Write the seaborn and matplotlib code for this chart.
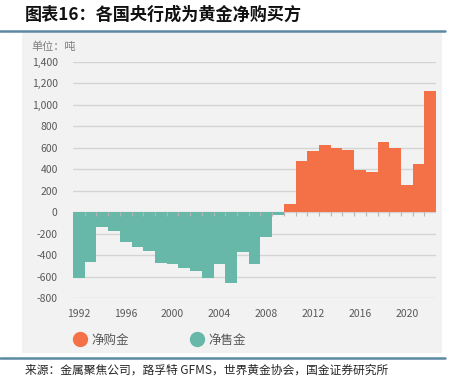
"""Central bank net gold purchases / sales, 1992-2022."""

import matplotlib
matplotlib.use("Agg")
import matplotlib.pyplot as plt
import numpy as np
import pandas as pd
import seaborn as sns
from matplotlib.lines import Line2D
from matplotlib.patches import Rectangle

# data (tonnes)
years = list(range(1992, 2023))
net_flow = [-618, -468, -135, -172, -280, -329, -363, -477, -480, -523, -548,
            -618, -483, -662, -369, -486, -235, -28, 80, 480, 566, 625, 597,
            578, 394, 375, 652, 600, 255, 449, 1132]
label_buy = "净购金"
label_sell = "净售金"
y_ticks = list(range(-800, 1401, 200))
x_label_years = list(range(1992, 2021, 4))

ORANGE = "#f47147"
TEAL = "#67b8a9"
PANEL = "#f2f2f2"
RULE = "#5b8ba3"

sns.set_theme(style="white")
plt.rcParams['font.family'] = ['Noto Sans CJK SC', 'DejaVu Sans']

df = pd.DataFrame({"year": years, "tons": net_flow})
df["type"] = np.where(df["tons"] >= 0, label_buy, label_sell)

fig = plt.figure(figsize=(4.55, 3.87), dpi=100)
fig.patch.set_facecolor("white")

# grey panel behind the chart
fig.add_artist(Rectangle((0.048, 0.088), 0.923, 0.829, transform=fig.transFigure,
                         facecolor=PANEL, edgecolor="none", zorder=0))
fig.add_artist(Line2D([0, 0.978], [0.921, 0.921], transform=fig.transFigure,
                      color=RULE, lw=1.8))
fig.add_artist(Line2D([0, 0.978], [0.075, 0.075], transform=fig.transFigure,
                      color=RULE, lw=1.8))

ax = fig.add_axes([0.1604, 0.23, 0.798, 0.61])
ax.set_facecolor("none")

sns.barplot(data=df, x="year", y="tons", hue="type", dodge=False, width=1,
            palette={label_buy: ORANGE, label_sell: TEAL}, saturation=1,
            linewidth=0, legend=False, ax=ax, zorder=2)

# small tick marks along the zero line between bars
edges = np.arange(1, len(years)) - 0.5
ax.vlines(edges, 0, -35, color="#b5b5b5", lw=0.8, zorder=3)

ax.set_xlim(-0.5, len(years) - 0.5)
ax.set_ylim(y_ticks[0], y_ticks[-1])
ax.set_yticks(y_ticks)
ax.set_yticklabels([f"{v:,}" for v in y_ticks])
ax.set_xticks([years.index(y) for y in x_label_years])
ax.set_xticklabels([str(y) for y in x_label_years])
ax.yaxis.grid(True, color="#d4d4d4", lw=1)
ax.set_axisbelow(True)
ax.tick_params(axis="both", length=0, labelsize=7.5, labelcolor="#595959")
ax.tick_params(axis="y", pad=11)
ax.tick_params(axis="x", pad=8)
ax.set_xlabel("")
ax.set_ylabel("")
sns.despine(ax=ax, left=True, bottom=True)

# texts
fig.text(0.055, 0.961, "图表16：各国央行成为黄金净购买方", fontsize=12.3,
         fontweight="bold", va="center", ha="left", color="#111111")
fig.text(0.070, 0.879, "单位：吨", fontsize=8, va="center", ha="left",
         color="#7f7f7f", zorder=5)
fig.text(0.055, 0.044, "来源：金属聚焦公司，路孚特 GFMS，世界黄金协会，国金证券研究所",
         fontsize=8.5, va="center", ha="left", color="#262626")

handles = [
    Line2D([], [], marker="o", ls="", color=ORANGE, markersize=10, label=label_buy),
    Line2D([], [], marker="o", ls="", color=TEAL, markersize=10, label=label_sell),
]
leg = fig.legend(handles=handles, loc="center left", bbox_to_anchor=(73 / 455, 0.1214),
                 ncol=2, frameon=False, fontsize=9, handlelength=1.1,
                 handletextpad=0.4, columnspacing=4.86, borderpad=0, borderaxespad=0)
for t in leg.get_texts():
    t.set_color("#595959")

fig.savefig("out.png", dpi=100)
